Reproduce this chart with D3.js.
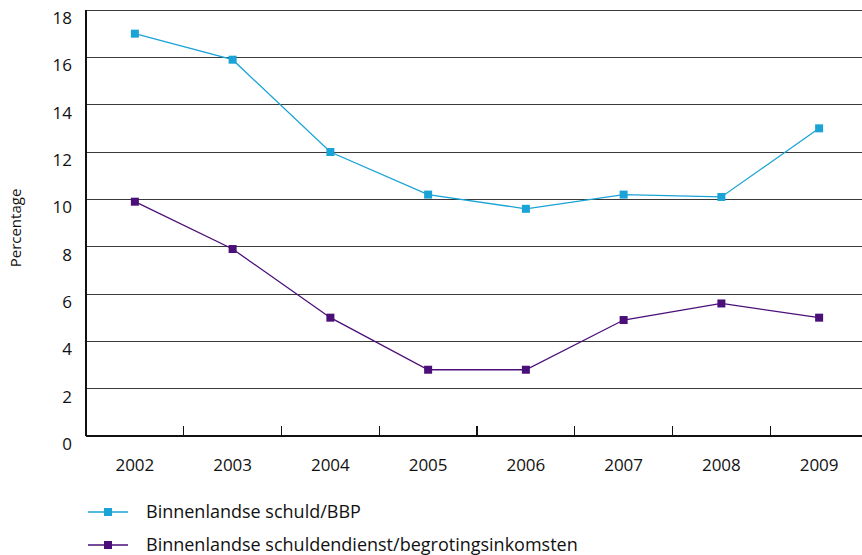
<!DOCTYPE html>
<html>
<head>
<meta charset="utf-8">
<script src="https://cdn.jsdelivr.net/npm/d3@7"></script>
<style>
  body { margin: 0; background: #fff; }
  svg { display: block; font-family: "Open Sans", sans-serif; }
</style>
</head>
<body>
<svg id="chart" width="862" height="555"></svg>
<script>
const years = ["2002", "2003", "2004", "2005", "2006", "2007", "2008", "2009"]
const schuld_bbp = [17.0, 15.9, 12.0, 10.2, 9.6, 10.2, 10.1, 13.0]
const schuldendienst = [9.9, 7.9, 5.0, 2.8, 2.8, 4.9, 5.6, 5.0]
const y_ticks = [0, 2, 4, 6, 8, 10, 12, 14, 16, 18]
const series_names = ["Binnenlandse schuld/BBP", "Binnenlandse schuldendienst/begrotingsinkomsten"]
const series_colors = ["#1aa3d6", "#4a0f78"]

const svg = d3.select("#chart")
const plot_left = 86, plot_right = 868, plot_top = 10, plot_bottom = 436

const x = d3.scaleBand().domain(years).range([plot_left, plot_right])
const y = d3.scaleLinear().domain([0, 18]).range([plot_bottom, plot_top])

// grid lines
svg.append("g").selectAll("line")
    .data(y_ticks.filter(d => d > 0))
    .join("line")
    .attr("x1", plot_left).attr("x2", 862)
    .attr("y1", d => y(d)).attr("y2", d => y(d))
    .attr("stroke", "#3a3a3a").attr("stroke-width", 1)
    .attr("shape-rendering", "crispEdges")

// y tick labels (sit a bit below the grid line)
svg.append("g").selectAll("text")
    .data(y_ticks)
    .join("text")
    .attr("x", 72).attr("y", d => y(d) + 14)
    .attr("text-anchor", "end")
    .attr("font-size", 17).attr("fill", "#111")
    .text(d => d)

// axes lines
svg.append("line").attr("x1", plot_left).attr("x2", plot_left).attr("y1", plot_top).attr("y2", plot_bottom)
    .attr("stroke", "#111").attr("stroke-width", 1.2).attr("shape-rendering", "crispEdges")
svg.append("line").attr("x1", plot_left).attr("x2", 862).attr("y1", plot_bottom).attr("y2", plot_bottom)
    .attr("stroke", "#111").attr("stroke-width", 1.5).attr("shape-rendering", "crispEdges")

// band boundary ticks
svg.append("g").selectAll("line")
    .data(years.slice(1))
    .join("line")
    .attr("x1", d => x(d)).attr("x2", d => x(d))
    .attr("y1", plot_bottom - 10).attr("y2", plot_bottom)
    .attr("stroke", "#111").attr("stroke-width", 1.2).attr("shape-rendering", "crispEdges")

// x labels
svg.append("g").selectAll("text")
    .data(years)
    .join("text")
    .attr("x", d => x(d) + x.bandwidth() / 2)
    .attr("y", 471)
    .attr("text-anchor", "middle")
    .attr("font-size", 17).attr("fill", "#111")
    .text(d => d)

// y title
svg.append("text")
    .attr("transform", "translate(21,228) rotate(-90)")
    .attr("text-anchor", "middle")
    .attr("font-size", 15).attr("fill", "#111")
    .text("Percentage")

const line = d3.line()
    .x((d, i) => x(years[i]) + x.bandwidth() / 2)
    .y(d => y(d))

const all_series = [schuld_bbp, schuldendienst]
all_series.forEach((vals, s) => {
    const g = svg.append("g")
    g.append("path")
        .attr("d", line(vals))
        .attr("fill", "none")
        .attr("stroke", series_colors[s])
        .attr("stroke-width", 1.3)
    g.selectAll("rect")
        .data(vals)
        .join("rect")
        .attr("x", (d, i) => x(years[i]) + x.bandwidth() / 2 - 4)
        .attr("y", d => y(d) - 4)
        .attr("width", 8).attr("height", 8)
        .attr("fill", series_colors[s])
})

// legend
const legend = svg.append("g")
series_names.forEach((name, i) => {
    const ly = 512 + i * 33
    legend.append("line").attr("x1", 88).attr("x2", 128).attr("y1", ly).attr("y2", ly)
        .attr("stroke", series_colors[i]).attr("stroke-width", 1.5)
    legend.append("rect").attr("x", 104).attr("y", ly - 4).attr("width", 8).attr("height", 8)
        .attr("fill", series_colors[i])
    legend.append("text").attr("x", 146).attr("y", ly + 6)
        .attr("font-size", 18).attr("fill", "#111")
        .text(name)
})
</script>
</body>
</html>
